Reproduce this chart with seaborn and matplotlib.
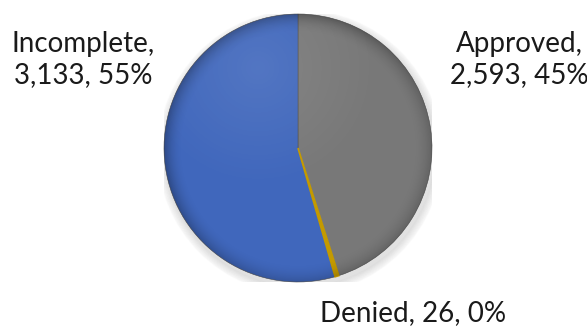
import numpy as np
import matplotlib
matplotlib.use("Agg")
import matplotlib.pyplot as plt
import seaborn as sns

# Application status counts
categories = ["Approved", "Denied", "Incomplete"]
counts = [2593, 26, 3133]
pct_labels = ["45%", "0%", "55%"]

sns.set_theme(style="white")
plt.rcParams["font.family"] = ["Lato", "DejaVu Sans"]

colors = ["#787878", "#C49A00", "#4067BC"]

fig = plt.figure(figsize=(5.87, 3.26), dpi=100)
ax = fig.add_axes([164 / 587, 44 / 326, 268 / 587, 268 / 326])
ax.set_xlim(-1, 1)
ax.set_ylim(-1, 1)
ax.set_aspect("equal")
ax.axis("off")

# soft drop shadow behind the pie
for i in range(10):
    r = 1.0 + 0.006 * (10 - i)
    shadow = plt.Circle((0.015, -0.03), r, color="black", alpha=0.012, zorder=0)
    ax.add_patch(shadow)

wedges, _ = ax.pie(counts, colors=colors, startangle=90, counterclock=False,
                   radius=1.0, wedgeprops=dict(edgecolor="#505050", linewidth=0.4),
                   normalize=True)
for w in wedges:
    w.set_zorder(2)
# the tiny slice gets an outline in its own colour so it stays visible
wedges[1].set_edgecolor(colors[1])
wedges[1].set_linewidth(1.2)
wedges[1].set_zorder(2.5)

# bevel-like shading: darken toward the rim, slight highlight at top-left
n = 400
yy, xx = np.mgrid[1:-1:complex(0, n), -1:1:complex(0, n)]
rr = np.sqrt(xx ** 2 + yy ** 2)
rim = np.clip((rr - 0.86) / 0.14, 0, 1) ** 2
shade = np.zeros((n, n, 4))
shade[..., 3] = 0.28 * rim * (0.6 + 0.4 * np.clip(-(xx - yy) / 1.4 + 0.5, 0, 1))
img = ax.imshow(shade, extent=(-1, 1, -1, 1), zorder=3, interpolation="bilinear")
img.set_clip_path(plt.Circle((0, 0), 1.0, transform=ax.transData))

hl = np.zeros((n, n, 4))
hl[..., :3] = 1.0
hl[..., 3] = 0.10 * np.clip(1 - np.sqrt((xx + 0.3) ** 2 + (yy - 0.6) ** 2) / 0.9, 0, 1)
img2 = ax.imshow(hl, extent=(-1, 1, -1, 1), zorder=3, interpolation="bilinear")
img2.set_clip_path(plt.Circle((0, 0), 1.0, transform=ax.transData))

ax.set_xlim(-1, 1)
ax.set_ylim(-1, 1)

label_pos = {"Approved": (1.649, 0.66, True),
             "Denied": (0.858, -1.235, False),
             "Incomplete": (-1.604, 0.66, True)}
for cat, cnt, pct in zip(categories, counts, pct_labels):
    x, y, two_line = label_pos[cat]
    sep = ",\n" if two_line else ", "
    txt = f"{cat}{sep}{cnt:,}, {pct}"
    ax.text(x, y, txt, ha="center", va="center", multialignment="center",
            fontsize=20, color="#1a1a1a", linespacing=1.22, clip_on=False)

fig.savefig("out.png", dpi=100, facecolor="white")
